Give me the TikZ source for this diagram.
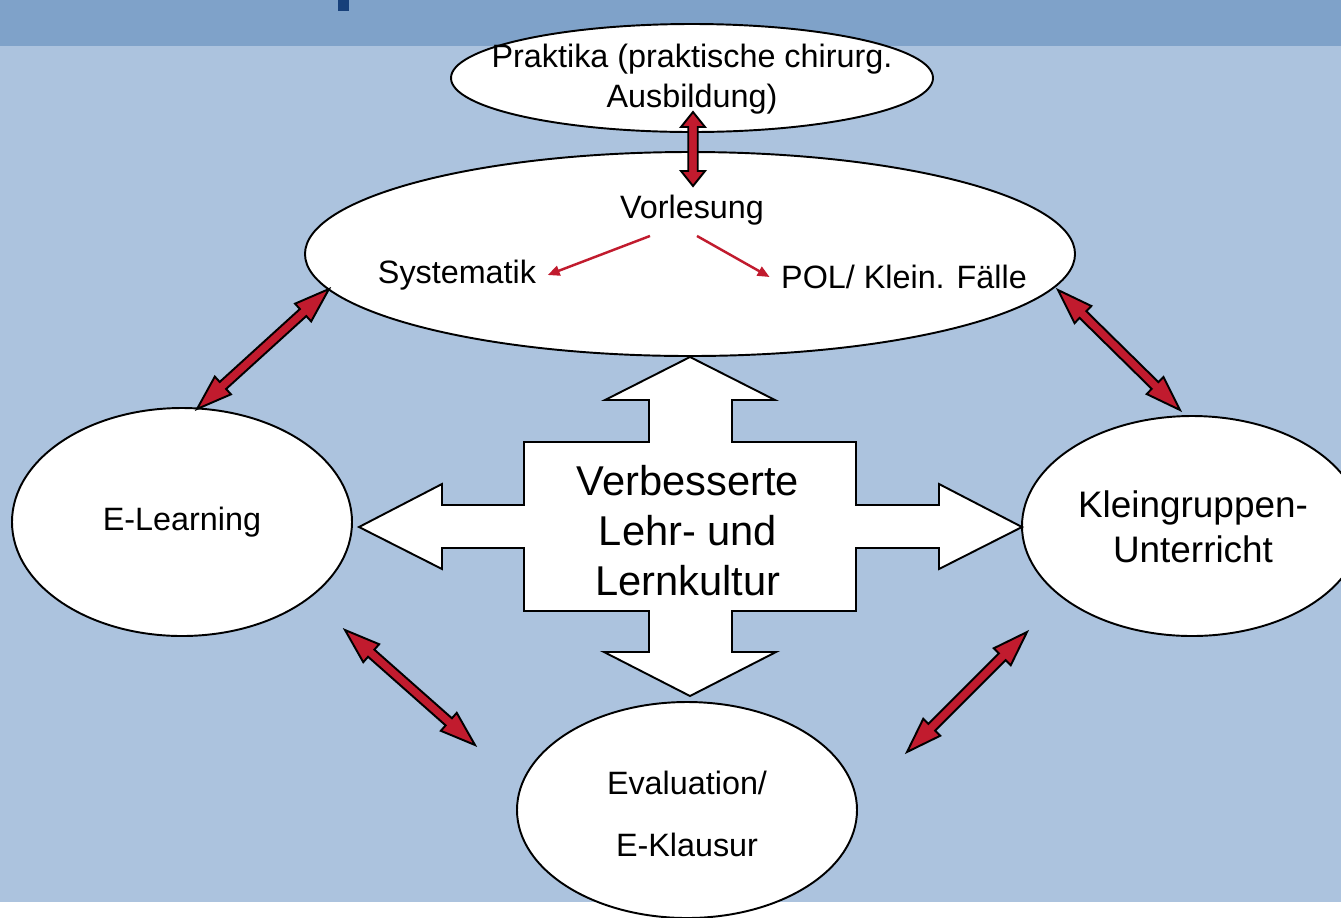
\documentclass[tikz,border=0pt]{standalone}
\usepackage{fontspec}
\setmainfont{Liberation Sans}
\usepackage{xcolor}
\usepackage{tikz}
\usetikzlibrary{arrows.meta,shapes.geometric,calc}

\definecolor{bandblue}{RGB}{127,162,201}
\definecolor{paleblue}{RGB}{172,195,222}
\definecolor{titleblue}{RGB}{23,64,122}
\definecolor{linkred}{RGB}{193,27,46}

% fat double arrow: #1 from, #2 to, #3 head length
\newcommand{\fatarrow}[3]{%
  \filldraw[fatlink] (#1)
    -- ($(#1)!#3!(#2)!2.4mm!90:(#2)$)
    -- ($(#1)!#3!(#2)!0.95mm!90:(#2)$)
    -- ($(#2)!#3!(#1)!0.95mm!-90:(#1)$)
    -- ($(#2)!#3!(#1)!2.4mm!-90:(#1)$)
    -- (#2)
    -- ($(#2)!#3!(#1)!2.4mm!90:(#1)$)
    -- ($(#2)!#3!(#1)!0.95mm!90:(#1)$)
    -- ($(#1)!#3!(#2)!0.95mm!-90:(#2)$)
    -- ($(#1)!#3!(#2)!2.4mm!-90:(#2)$)
    -- cycle;}

\begin{document}
\begin{tikzpicture}[x=0.2mm, y=-0.2mm,
  bubble/.style={ellipse, draw=black, fill=white, line width=1.1pt, inner sep=0pt, outer sep=0pt},
  txt/.style={align=center, font=\fontsize{18.4}{22.8}\selectfont},
  fatlink/.style={fill=linkred, draw=black, line width=1.1pt, line join=miter},
  forklink/.style={draw=linkred, line width=1.4pt, -{Triangle[length=2.4mm,width=2mm]}},
  crossarrow/.style={fill=white, draw=black, line width=1.1pt}]

% Background and title band
\useasboundingbox (0,0) rectangle (1341,917);
\clip (0,0) rectangle (1341,917);
\fill[white] (0,0) rectangle (1341,917);
\fill[paleblue] (0,0) rectangle (1341,902);
\fill[bandblue] (0,0) rectangle (1341,46);
\fill[titleblue] (338,0) rectangle (349,11);

% Bubbles
\node[bubble, minimum width=96.4mm, minimum height=21.6mm] (prak) at (692,78) {};
\node[bubble, minimum width=154mm, minimum height=40.8mm] (vorl) at (690,254) {};
\node[bubble, minimum width=68mm, minimum height=45.6mm] (elearn) at (182,522) {};
\node[bubble, minimum width=68mm, minimum height=44mm] (klein) at (1192,526) {};
\node[bubble, minimum width=68mm, minimum height=43.2mm] (eval) at (687,810) {};

% Texts in the bubbles
\node[txt] (praktxt) at (692,79) {Praktika (praktische chirurg.\\Ausbildung)};
\node[txt, inner sep=6pt] (vorltxt) at (692,210) {Vorlesung};
\node[txt, inner sep=16\pgflinewidth] (syst) at (457,275) {Systematik};
\node[txt, inner sep=16\pgflinewidth] (pol) at (904,277) {POL/ Klein. Fälle};
\node[txt] (elearntxt) at (elearn.center) {E-Learning};
\node[txt, font=\fontsize{21}{25.6}\selectfont] (kleintxt) at (1193,527) {Kleingruppen-\\Unterricht};
\node[txt, font=\fontsize{18.4}{35.3}\selectfont] (evaltxt) at (687,814) {Evaluation/\\E-Klausur};

% Vorlesung fork
\draw[forklink] ([xshift=-42*0.2mm]vorltxt.south) -- (syst.east);
\draw[forklink] ([xshift=5*0.2mm]vorltxt.south) -- (pol.west);

% Central cross arrow
\filldraw[crossarrow] (690,357) -- (775,400) -- (732,400) -- (732,442) -- (856,442)
  -- (856,505) -- (939,505) -- (939,484) -- (1022,527) -- (939,569) -- (939,548)
  -- (856,548) -- (856,611) -- (732,611) -- (732,652) -- (776,652) -- (690,696)
  -- (604,652) -- (649,652) -- (649,611) -- (524,611) -- (524,548) -- (442,548)
  -- (442,569) -- (359,527) -- (442,484) -- (442,505) -- (524,505) -- (524,442)
  -- (649,442) -- (649,400) -- (605,400) -- cycle;
\node[txt, font=\fontsize{23.7}{28.4}\selectfont] (kultur) at (688,531) {Verbesserte\\Lehr- und\\Lernkultur};

% Links between the bubbles
\coordinate (pv1) at (693,112);
\coordinate (pv2) at (693,186);
\coordinate (ve1) at (329,289);
\coordinate (ve2) at (197,409);
\coordinate (vk1) at (1058,290);
\coordinate (vk2) at (1180,410);
\coordinate (ee1) at (345,630);
\coordinate (ee2) at (475,745);
\coordinate (ke1) at (1027,632);
\coordinate (ke2) at (907,752);
\fatarrow{pv1}{pv2}{3mm}
\fatarrow{ve1}{ve2}{7mm}
\fatarrow{vk1}{vk2}{7mm}
\fatarrow{ee1}{ee2}{7mm}
\fatarrow{ke1}{ke2}{7mm}

\end{tikzpicture}
\end{document}
